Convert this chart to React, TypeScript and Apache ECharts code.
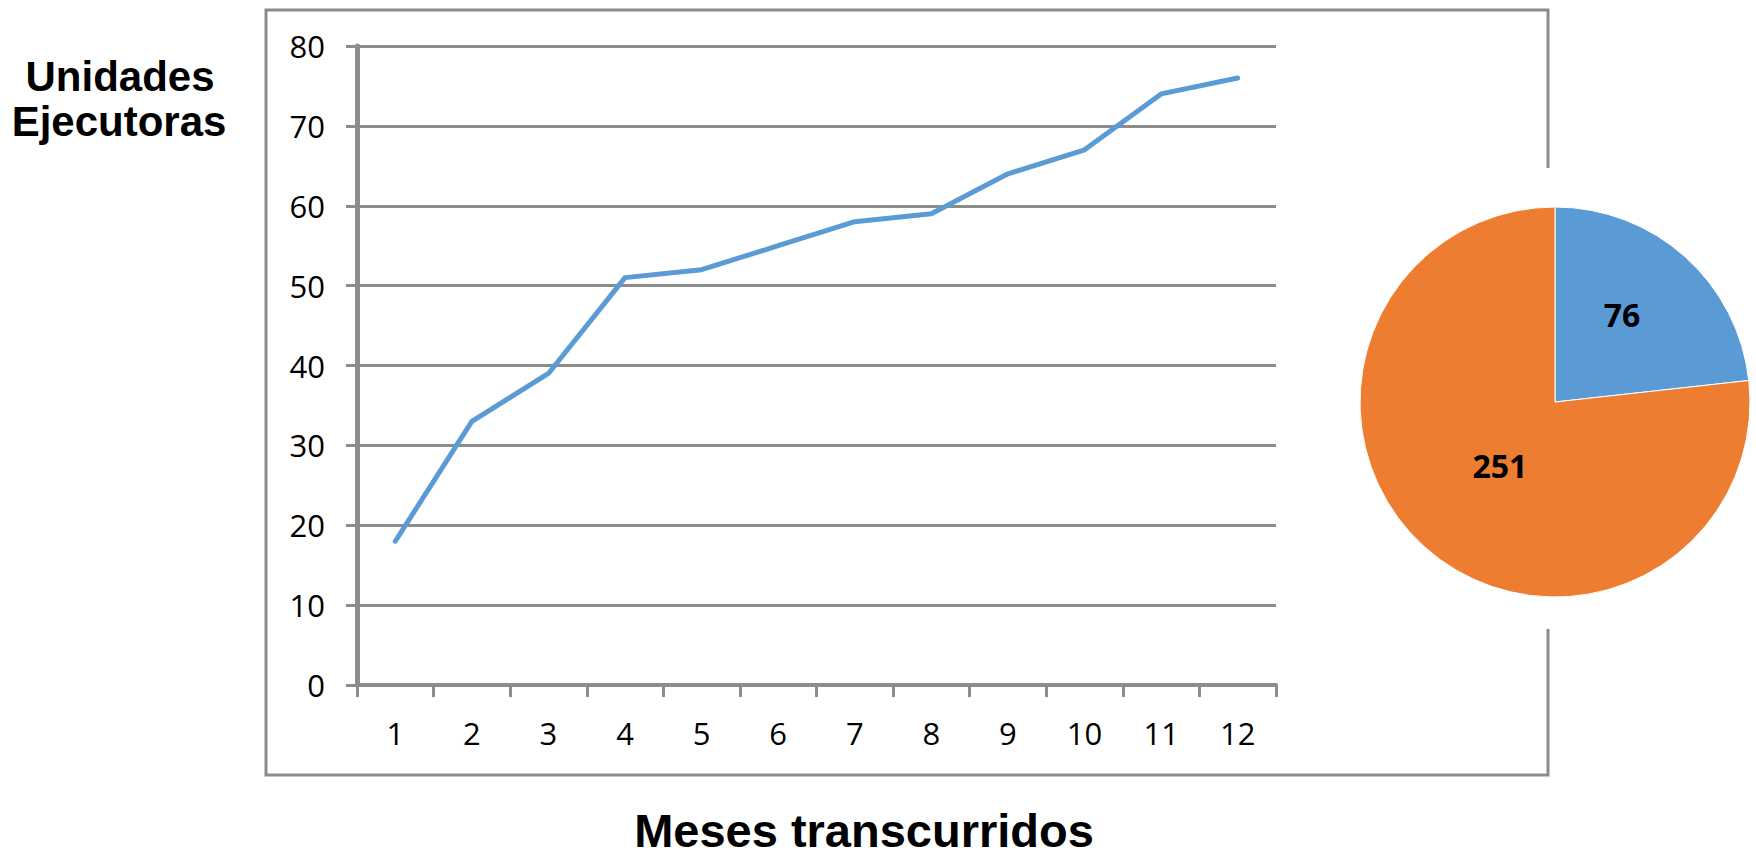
import React, { useEffect, useRef } from "react";
import * as echarts from "echarts";

const meses = ["1", "2", "3", "4", "5", "6", "7", "8", "9", "10", "11", "12"];
const unidadesEjecutoras = [18, 33, 39, 51, 52, 55, 58, 59, 64, 67, 74, 76];
const pieNames = ["Ejecutoras", "Restantes"];
const pieValues = [76, 251];
const yMin = 0;
const yMax = 80;
const yInterval = 10;

const GRAY = "#8c8c8c";
const BLUE = "#5b9bd5";
const ORANGE = "#ed7d31";

export default function App() {
  const ref = useRef<HTMLDivElement | null>(null);

  useEffect(() => {
    if (!ref.current) return;
    const chart = echarts.init(ref.current, undefined, { renderer: "svg" });
    const tickFont = { color: "#000", fontSize: 31, fontFamily: "Open Sans" };
    const option: any = {
      animation: false,
      backgroundColor: "#ffffff",
      grid: { left: 357, right: 480, top: 46, bottom: 173, containLabel: false },
      xAxis: {
        type: "category",
        data: meses,
        boundaryGap: true,
        axisLine: { show: true, lineStyle: { color: GRAY, width: 4 } },
        axisTick: { show: true, length: 12, lineStyle: { color: GRAY, width: 3 } },
        axisLabel: { ...tickFont, margin: 32 },
        splitLine: { show: false },
      },
      yAxis: {
        type: "value",
        min: yMin,
        max: yMax,
        interval: yInterval,
        axisLine: { show: true, lineStyle: { color: GRAY, width: 5 } },
        axisTick: { show: true, length: 11, lineStyle: { color: GRAY, width: 3 } },
        axisLabel: { ...tickFont, margin: 32 },
        splitLine: { show: true, lineStyle: { color: GRAY, width: 3 } },
      },
      series: [
        {
          type: "line",
          data: unidadesEjecutoras,
          symbol: "none",
          lineStyle: { color: BLUE, width: 5, cap: "round", join: "round" },
          itemStyle: { color: BLUE },
          z: 5,
        },
        {
          type: "pie",
          center: [1555, 402],
          radius: 195,
          startAngle: 90,
          clockwise: true,
          labelLine: { show: false },
          itemStyle: { borderColor: "#ffffff", borderWidth: 1 },
          label: {
            show: true,
            position: "inside",
            formatter: "{c}",
            color: "#000",
            fontSize: 32,
            fontWeight: "bold",
            fontFamily: "Open Sans",
          },
          data: [
            { name: pieNames[0], value: pieValues[0], itemStyle: { color: BLUE }, label: { offset: [0, -13] } },
            { name: pieNames[1], value: pieValues[1], itemStyle: { color: ORANGE }, label: { offset: [12, -11] } },
          ],
        },
      ],
      graphic: [
        {
          type: "polyline",
          shape: { points: [[1548, 168], [1548, 10], [266, 10], [266, 775], [1548, 775], [1548, 629]] },
          style: { stroke: GRAY, lineWidth: 3, fill: null },
          z: 0,
        },
        {
          type: "text",
          x: 120,
          y: 76,
          style: {
            text: "Unidades",
            fill: "#000",
            font: "bold 42px 'Liberation Sans', Arial, sans-serif",
            textAlign: "center",
            textVerticalAlign: "middle",
          },
        },
        {
          type: "text",
          x: 119,
          y: 121,
          style: {
            text: "Ejecutoras",
            fill: "#000",
            font: "bold 42px 'Liberation Sans', Arial, sans-serif",
            textAlign: "center",
            textVerticalAlign: "middle",
          },
        },
        {
          type: "text",
          x: 864,
          y: 830,
          style: {
            text: "Meses transcurridos",
            fill: "#000",
            font: "bold 47px 'Liberation Sans', Arial, sans-serif",
            textAlign: "center",
            textVerticalAlign: "middle",
          },
        },
      ],
    };
    chart.setOption(option);
    return () => chart.dispose();
  }, []);

  return (
    <div
      ref={ref}
      style={{ position: "fixed", left: 0, top: 0, width: 1756, height: 858, background: "#fff" }}
    />
  );
}
